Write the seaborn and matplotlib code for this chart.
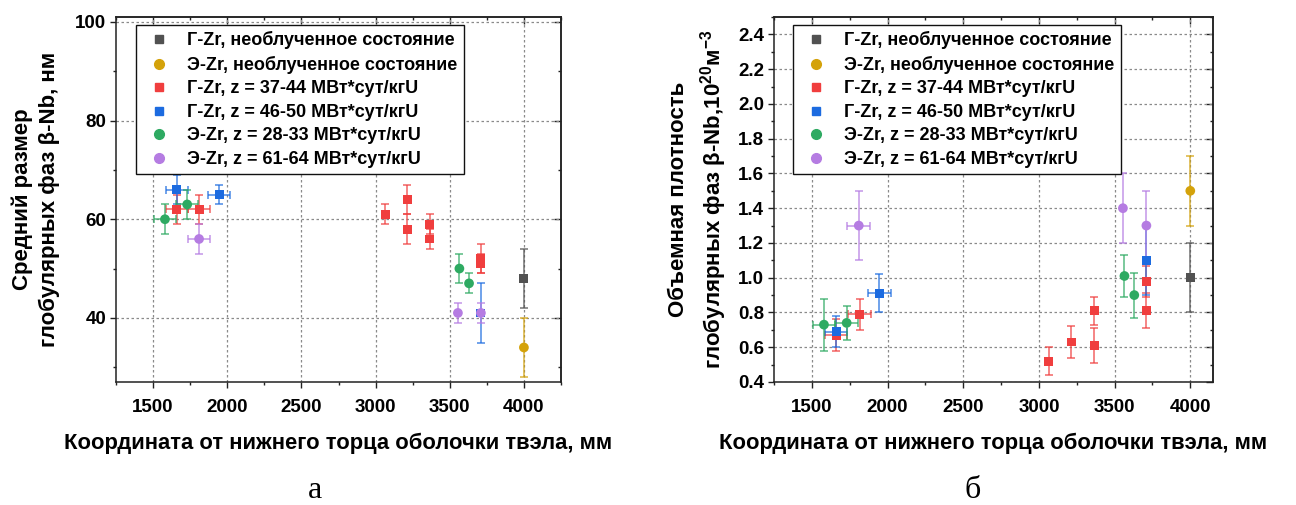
import numpy as np
import pandas as pd
import matplotlib
matplotlib.use("Agg")
import matplotlib.pyplot as plt
from matplotlib.ticker import MultipleLocator, FormatStrFormatter
from matplotlib.lines import Line2D
import seaborn as sns

# ---------------- data ----------------
labels = [
    "Г-Zr, необлученное состояние",
    "Э-Zr, необлученное состояние",
    "Г-Zr, z = 37-44 МВт*сут/кгU",
    "Г-Zr, z = 46-50 МВт*сут/кгU",
    "Э-Zr, z = 28-33 МВт*сут/кгU",
    "Э-Zr, z = 61-64 МВт*сут/кгU",
]
colors = ["#515151", "#D4A20A", "#F03E3E", "#1C6BE0", "#2EAA62", "#B57CE2"]
markers = ["s", "o", "s", "s", "o", "o"]

# (a) mean size of globular beta-Nb phases, nm
a_x_gz_un = [4000]
a_y_gz_un = [48]
a_ye_gz_un = [6]
a_xe_gz_un = [0]

a_x_ez_un = [4000]
a_y_ez_un = [34]
a_ye_ez_un = [6]
a_xe_ez_un = [0]

a_x_gz_37 = [1660, 1810, 3065, 3215, 3215, 3365, 3365, 3710, 3710]
a_y_gz_37 = [62, 62, 61, 64, 58, 59, 56, 52, 51]
a_ye_gz_37 = [3, 3, 2, 3, 3, 2, 2, 3, 2]
a_xe_gz_37 = [75, 75, 0, 0, 0, 0, 0, 0, 0]

a_x_gz_46 = [1660, 1945, 3710]
a_y_gz_46 = [66, 65, 41]
a_ye_gz_46 = [3, 2, 6]
a_xe_gz_46 = [75, 75, 0]

a_x_ez_28 = [1580, 1730, 3565, 3630]
a_y_ez_28 = [60, 63, 50, 47]
a_ye_ez_28 = [3, 3, 3, 2]
a_xe_ez_28 = [75, 75, 0, 0]

a_x_ez_61 = [1810, 3555, 3710]
a_y_ez_61 = [56, 41, 41]
a_ye_ez_61 = [3, 2, 2]
a_xe_ez_61 = [75, 0, 0]

# (b) volume density of globular beta-Nb phases, 1e20 m^-3
b_x_gz_un = [4000]
b_y_gz_un = [1.0]
b_ye_gz_un = [0.2]
b_xe_gz_un = [0]

b_x_ez_un = [4000]
b_y_ez_un = [1.5]
b_ye_ez_un = [0.2]
b_xe_ez_un = [0]

b_x_gz_37 = [1660, 1815, 3065, 3215, 3365, 3365, 3710, 3710]
b_y_gz_37 = [0.67, 0.79, 0.52, 0.63, 0.61, 0.81, 0.98, 0.81]
b_ye_gz_37 = [0.09, 0.09, 0.08, 0.09, 0.10, 0.08, 0.09, 0.10]
b_xe_gz_37 = [75, 75, 0, 0, 0, 0, 0, 0]

b_x_gz_46 = [1660, 1945, 3710]
b_y_gz_46 = [0.69, 0.91, 1.10]
b_ye_gz_46 = [0.09, 0.11, 0.20]
b_xe_gz_46 = [75, 75, 0]

b_x_ez_28 = [1580, 1730, 3565, 3630]
b_y_ez_28 = [0.73, 0.74, 1.01, 0.90]
b_ye_ez_28 = [0.15, 0.10, 0.12, 0.13]
b_xe_ez_28 = [75, 75, 0, 0]

b_x_ez_61 = [1810, 3555, 3710]
b_y_ez_61 = [1.30, 1.40, 1.30]
b_ye_ez_61 = [0.20, 0.20, 0.20]
b_xe_ez_61 = [75, 0, 0]

xlabel = "Координата от нижнего торца оболочки твэла, мм"
ylabel_a = "Средний размер\nглобулярных фаз β-Nb, нм"
ylabel_b = "Объемная плотность\nглобулярных фаз β-Nb,10$^{20}$м$^{-3}$"


def build_frame(xs, ys, xes, yes):
    rows = []
    for lab, x, y, xe, ye in zip(labels, xs, ys, xes, yes):
        for a, b, c, d in zip(x, y, xe, ye):
            rows.append(dict(series=lab, x=a, y=b, xerr=c, yerr=d))
    return pd.DataFrame(rows)


df_a = build_frame(
    [a_x_gz_un, a_x_ez_un, a_x_gz_37, a_x_gz_46, a_x_ez_28, a_x_ez_61],
    [a_y_gz_un, a_y_ez_un, a_y_gz_37, a_y_gz_46, a_y_ez_28, a_y_ez_61],
    [a_xe_gz_un, a_xe_ez_un, a_xe_gz_37, a_xe_gz_46, a_xe_ez_28, a_xe_ez_61],
    [a_ye_gz_un, a_ye_ez_un, a_ye_gz_37, a_ye_gz_46, a_ye_ez_28, a_ye_ez_61],
)
df_b = build_frame(
    [b_x_gz_un, b_x_ez_un, b_x_gz_37, b_x_gz_46, b_x_ez_28, b_x_ez_61],
    [b_y_gz_un, b_y_ez_un, b_y_gz_37, b_y_gz_46, b_y_ez_28, b_y_ez_61],
    [b_xe_gz_un, b_xe_ez_un, b_xe_gz_37, b_xe_gz_46, b_xe_ez_28, b_xe_ez_61],
    [b_ye_gz_un, b_ye_ez_un, b_ye_gz_37, b_ye_gz_46, b_ye_ez_28, b_ye_ez_61],
)

# ---------------- style ----------------
sns.set_style("ticks")
plt.rcParams["font.family"] = ["Liberation Sans", "DejaVu Sans"]
plt.rcParams["font.weight"] = "bold"
plt.rcParams["text.color"] = "black"
plt.rcParams["axes.labelcolor"] = "black"
plt.rcParams["xtick.labelcolor"] = "black"
plt.rcParams["ytick.labelcolor"] = "black"
plt.rcParams["mathtext.fontset"] = "custom"
plt.rcParams["mathtext.rm"] = "Liberation Sans:bold"
plt.rcParams["mathtext.bf"] = "Liberation Sans:bold"
plt.rcParams["mathtext.default"] = "bf"

W, H = 1296, 505
fig = plt.figure(figsize=(W / 100, H / 100), dpi=100)
ax_a = fig.add_axes([116 / W, 1 - 382 / H, 445 / W, 365 / H])
ax_b = fig.add_axes([774 / W, 1 - 382 / H, 439 / W, 365 / H])

MS_SQ = 6.4
MS_CI = 7.0
EDGE = "#222222"


def draw(ax, df):
    for lab, col, mk in zip(labels, colors, markers):
        sub = df[df.series == lab]
        ax.errorbar(sub.x, sub.y, yerr=sub.yerr, fmt="none", ecolor=col,
                    alpha=0.8, elinewidth=1.1, capsize=2.8, capthick=1.1,
                    zorder=2)
        hx = sub[sub.xerr > 0]
        if len(hx):
            ax.errorbar(hx.x, hx.y, xerr=hx.xerr, fmt="none", ecolor=col,
                        alpha=0.8, elinewidth=1.1, capsize=2.8, capthick=1.1,
                        zorder=2)
        ms = MS_SQ if mk == "s" else MS_CI
        sns.scatterplot(data=sub, x="x", y="y", marker=mk, color=col,
                        s=ms ** 2, edgecolor="none", linewidth=0,
                        legend=False, ax=ax, zorder=3)


def style_axes(ax, xlim, ylim, ymaj, ymin):
    ax.set_xlim(*xlim)
    ax.set_ylim(*ylim)
    ax.xaxis.set_major_locator(MultipleLocator(500))
    ax.xaxis.set_minor_locator(MultipleLocator(250))
    ax.yaxis.set_major_locator(MultipleLocator(ymaj))
    ax.yaxis.set_minor_locator(MultipleLocator(ymin))
    ax.grid(True, which="major", color="#8a8a8a", linestyle=(0, (2, 2)),
            linewidth=0.9)
    ax.set_axisbelow(True)
    for sp in ax.spines.values():
        sp.set_visible(True)
        sp.set_linewidth(1.1)
        sp.set_color(EDGE)
    ax.tick_params(which="major", direction="out", length=4, width=1.0,
                   labelsize=13.5, pad=3, color=EDGE, labelcolor="black")
    ax.tick_params(axis="x", which="major", pad=8)
    ax.tick_params(which="minor", direction="out", length=2.5, width=1.0,
                   color=EDGE)
    for lbl in ax.get_xticklabels() + ax.get_yticklabels():
        lbl.set_fontweight("bold")
    # mirrored inward ticks on the top and right edges
    top = ax.secondary_xaxis("top")
    top.xaxis.set_major_locator(MultipleLocator(500))
    top.xaxis.set_minor_locator(MultipleLocator(250))
    top.tick_params(which="major", direction="in", length=5, width=1.0,
                    labeltop=False, color=EDGE)
    top.tick_params(which="minor", direction="in", length=2.5, width=1.0,
                    color=EDGE)
    right = ax.secondary_yaxis("right")
    right.yaxis.set_major_locator(MultipleLocator(ymaj))
    right.yaxis.set_minor_locator(MultipleLocator(ymin))
    right.tick_params(which="major", direction="in", length=5, width=1.0,
                      labelright=False, color=EDGE)
    right.tick_params(which="minor", direction="in", length=2.5, width=1.0,
                      color=EDGE)
    for s in (top, right):
        for sp in s.spines.values():
            sp.set_linewidth(1.1)
            sp.set_color(EDGE)


draw(ax_a, df_a)
draw(ax_b, df_b)

style_axes(ax_a, (1250, 4250), (27, 101), 20, 10)
style_axes(ax_b, (1250, 4150), (0.4, 2.5), 0.2, 0.1)
ax_b.yaxis.set_major_formatter(FormatStrFormatter("%.1f"))

for ax, yl, lx, ls in ((ax_a, ylabel_a, -0.18, 1.35),
                       (ax_b, ylabel_b, -0.172, 1.45)):
    ax.set_xlabel(xlabel, fontsize=15.8, fontweight="bold", labelpad=12,
                  color="black")
    ax.set_ylabel(yl, fontsize=16, fontweight="bold", va="center",
                  linespacing=ls, color="black")
    ax.yaxis.set_label_coords(lx, 0.5)

handles = [Line2D([], [], marker=mk, color=col, linestyle="none",
                  markersize=(MS_SQ if mk == "s" else MS_CI))
           for col, mk in zip(colors, markers)]
for ax in (ax_a, ax_b):
    x0 = (136 - 116) / 445 if ax is ax_a else (793 - 774) / 439
    leg = ax.legend(handles, labels, loc="upper left",
                    bbox_to_anchor=(x0, 1 - 8 / 365), borderaxespad=0,
                    prop={"family": "Liberation Sans", "weight": "bold",
                          "size": 13},
                    frameon=True, fancybox=False, framealpha=1,
                    edgecolor="#111111", labelspacing=0.36,
                    handletextpad=0.7, handlelength=1.8, borderpad=0.35,
                    labelcolor="black")
    leg.get_frame().set_linewidth(1.0)
    leg.set_zorder(5)

fig.text(315 / W, 1 - 491 / H, "а", family="Liberation Serif", fontsize=23,
         fontweight="normal", ha="center", va="center", color="black")
fig.text(973 / W, 1 - 491 / H, "б", family="Liberation Serif", fontsize=23,
         fontweight="normal", ha="center", va="center", color="black")

fig.savefig("out.png", dpi=100)
